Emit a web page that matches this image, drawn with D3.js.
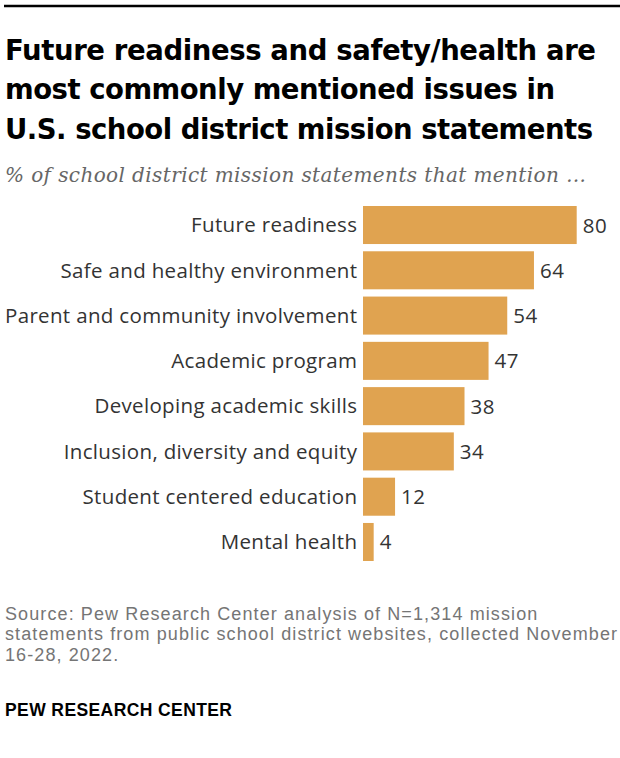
<!DOCTYPE html>
<html>
<head>
<meta charset="utf-8">
<script src="https://cdn.jsdelivr.net/npm/d3@7"></script>
<style>
  body { margin: 0; background: #fff; }
  svg { display: block; font-family: "Open Sans", Roboto, sans-serif; }
</style>
</head>
<body>
<svg id="chart"></svg>
<script>
const categories = [
  'Future readiness',
  'Safe and healthy environment',
  'Parent and community involvement',
  'Academic program',
  'Developing academic skills',
  'Inclusion, diversity and equity',
  'Student centered education',
  'Mental health'
];
const values = [80, 64, 54, 47, 38, 34, 12, 4];

const titleLines = [
  'Future readiness and safety/health are',
  'most commonly mentioned issues in',
  'U.S. school district mission statements'
];
const subtitle = '% of school district mission statements that mention \u2026';
const sourceLines = [
  'Source: Pew Research Center analysis of N=1,314 mission',
  'statements from public school district websites, collected November',
  '16-28, 2022.'
];
const credit = 'PEW RESEARCH CENTER';

(function(){
  const W = 620, H = 758;
  const svg = d3.select('#chart').attr('width', W).attr('height', H);
  svg.append('rect').attr('width', W).attr('height', H).attr('fill', '#fff');

  // letter-spacing that brings a text run to a target width
  function spacingFor(node, target) {
    return (target - node.getComputedTextLength()) / (node.textContent.length - 1);
  }
  function fit(node, target) {
    d3.select(node).style('letter-spacing', spacingFor(node, target) + 'px');
  }

  // top rule
  svg.append('line').attr('x1', 4).attr('x2', W).attr('y1', 6).attr('y2', 6)
    .attr('stroke', '#000').attr('stroke-width', 2.5);

  // title
  const titleW = [591, 550, 588];
  svg.append('g').selectAll('text').data(titleLines).join('text')
    .attr('x', 5).attr('y', (d, i) => 59.5 + i * 39.5)
    .style('font-family', '"DejaVu Sans", sans-serif')
    .style('font-size', '27.5px').style('font-weight', '700').style('fill', '#000')
    .text(d => d)
    .each(function(d, i){ fit(this, titleW[i]); });

  svg.append('text').attr('x', 5).attr('y', 181.7)
    .style('font-family', '"DejaVu Serif", Georgia, serif')
    .style('font-style', 'italic').style('font-size', '20px').style('fill', '#666')
    .text(subtitle)
    .each(function(){ fit(this, 581); });

  const data = categories.map((c, i) => ({cat: c, val: values[i]}));

  const x = d3.scaleLinear().domain([0, 80]).range([363, 576.7]);
  const y = d3.scaleBand().domain(categories).range([206, 561]).paddingInner(0.16).paddingOuter(0);

  const g = svg.append('g');
  g.selectAll('rect.bar').data(data).join('rect')
    .attr('class', 'bar')
    .attr('x', x(0)).attr('y', d => y(d.cat))
    .attr('width', d => x(d.val) - x(0)).attr('height', y.bandwidth())
    .attr('fill', '#E0A350');

  const cats = g.selectAll('text.cat').data(data).join('text')
    .attr('class', 'cat')
    .attr('x', 357).attr('y', d => y(d.cat) + y.bandwidth() / 2 + 7.3)
    .attr('text-anchor', 'end')
    .style('font-size', '20.5px').style('fill', '#333')
    .text(d => d.cat);
  // uniform spacing taken from the longest label
  const longest = cats.filter(d => d.cat === 'Parent and community involvement').node();
  const ls = spacingFor(longest, 352);
  cats.style('letter-spacing', ls + 'px').attr('dx', ls);

  g.selectAll('text.val').data(data).join('text')
    .attr('class', 'val')
    .attr('x', d => x(d.val) + 6).attr('y', d => y(d.cat) + y.bandwidth() / 2 + 7.5)
    .style('font-size', '20.5px').style('fill', '#333').style('letter-spacing', '0.5px')
    .text(d => d.val);

  // source note: one spacing for all lines, set by the longest line
  const src = svg.append('g').selectAll('text').data(sourceLines).join('text')
    .attr('x', 5).attr('y', (d, i) => 620 + i * 20.3)
    .style('font-family', '"Liberation Sans", Arial, sans-serif')
    .style('font-size', '18px').style('fill', '#757575')
    .text(d => d);
  const srcLs = spacingFor(src.filter((d, i) => i === 1).node(), 612);
  src.style('letter-spacing', srcLs + 'px');

  svg.append('text').attr('x', 5).attr('y', 716)
    .style('font-family', '"Liberation Sans", Arial, sans-serif')
    .style('font-size', '17.5px').style('font-weight', '700').style('fill', '#000')
    .text(credit)
    .each(function(){ fit(this, 227); });
})();
</script>
</body>
</html>
